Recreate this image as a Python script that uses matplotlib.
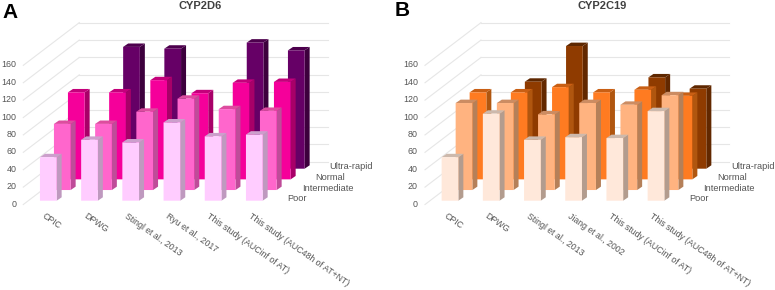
import matplotlib
matplotlib.use('Agg')
import matplotlib.pyplot as plt
from matplotlib.patches import Polygon
import numpy as np

plt.rcParams['font.family'] = ['Liberation Sans', 'DejaVu Sans']

# Values. nan = no bar in that series.

series_names = ['Poor', 'Intermediate', 'Normal', 'Ultra-rapid']
value_ticks = [0, 20, 40, 60, 80, 100, 120, 140, 160]

labels_a = ['CPIC', 'DPWG', 'Stingl et al., 2013', 'Ryu et al., 2017',
            'This study (AUCinf of AT)', 'This study (AUC48h of AT+NT)']
poor_a = [50, 70, 67, 90, 74, 76]
intermediate_a = [76, 76, 90, 105, 93, 91]
normal_a = [100, 100, 114, 99, 111, 112]
ultra_a = [np.nan, 140, 138, np.nan, 145, 136]

labels_b = ['CPIC', 'DPWG', 'Stingl et al., 2013', 'Jiang et al., 2002',
            'This study (AUCinf of AT)', 'This study (AUC48h of AT+NT)']
poor_b = [50, 100, 70, 73, 72, 103]
intermediate_b = [100, 100, 87, 100, 98, 109]
normal_b = [100, 100, 106, 100, 103, 96]
ultra_b = [np.nan, 100, 141, np.nan, 105, 92]

# front, side, top colour for each series

colors_a = [('#FFCCFF', '#BF99BF', '#CC9FCC'),
            ('#FF66CC', '#BF4C99', '#DD4C9F'),
            ('#F5009A', '#A80068', '#C4007B'),
            ('#660066', '#3D003D', '#4D004D')]
colors_b = [('#FFE8DA', '#B39C8E', '#CDB9AC'),
            ('#FFB380', '#B58059', '#CC8C62'),
            ('#FF7B21', '#B0560F', '#C95F14'),
            ('#8F3B00', '#622800', '#5E2700')]

# Sizes in pixels of the 775x290 figure, then converted to axes units.

fig_w, fig_h = 775, 290
px_cat = 41.2       # one category along x
px_val = 0.87       # one value unit along y
base_x = 48.3       # centre of first front bar, from axes left
base_y = 200.7      # floor of the front series, from the top
step_x = 14 / px_cat
step_y = 10.67 / px_val
bar_w = 16.7 / px_cat
side_x = 5 / px_cat
side_y = 3.4 / px_val
text_color = '#555555'
grid_color = '#E6E6E6'


def draw_panel(left_px, title, labels, series, colors):
    ax = fig.add_axes([left_px / fig_w, 0, 373 / fig_w, 1])
    ax.set_xlim(-base_x / px_cat, (373 - base_x) / px_cat)
    ax.set_ylim(-(fig_h - base_y) / px_val, base_y / px_val)
    ax.axis('off')

    # Left wall and back wall grid lines.

    wall_x0 = (23.3 - base_x) / px_cat
    wall_x1 = wall_x0 + 4 * step_x
    wall_x2 = (327.7 - base_x) / px_cat
    front_y = -4.4
    for v in value_ticks:
        ax.plot([wall_x0, wall_x1], [front_y + v, front_y + 4 * step_y + v],
                color=grid_color, lw=0.8, zorder=1)
        ax.plot([wall_x1, wall_x2], [front_y + 4 * step_y + v] * 2,
                color=grid_color, lw=0.8, zorder=1)
        ax.text(wall_x0 - 7 / px_cat, v - 3.8, str(v), ha='right', va='center',
                fontsize=6.4, color=text_color)

    # Back series first so the front ones cover them.

    x = np.arange(len(labels))
    for s in range(len(series) - 1, -1, -1):
        values = np.array(series[s], dtype=float)
        left = x - bar_w / 2 + s * step_x
        floor = s * step_y
        z = 10 + (len(series) - s) * 3
        front, side, top = colors[s]
        ax.bar(left, values, width=bar_w, bottom=floor, align='edge',
               color=front, linewidth=0, zorder=z + 1, snap=False)
        for xl, v in zip(left, values):
            if np.isnan(v):
                continue
            xr = xl + bar_w
            ax.add_patch(Polygon([(xr, floor), (xr + side_x, floor + side_y),
                                  (xr + side_x, floor + v + side_y), (xr, floor + v)],
                                 closed=True, fc=side, lw=0, zorder=z, snap=False))
            ax.add_patch(Polygon([(xl, floor + v), (xr, floor + v),
                                  (xr + side_x, floor + v + side_y),
                                  (xl + side_x, floor + v + side_y)],
                                 closed=True, fc=top, lw=0, zorder=z, snap=False))

    # Category labels under the front row.

    for i, name in enumerate(labels):
        ax.text(i - 2.5 / px_cat, -12, name, rotation=-35, rotation_mode='anchor',
                ha='left', va='top', fontsize=6.3, color=text_color)

    # Series names, stepping back with the depth.

    for s, name in enumerate(series_names):
        ax.text((287.7 - base_x) / px_cat + s * step_x, 2.3 + s * step_y, name,
                ha='left', va='center', fontsize=6.7, color=text_color)

    ax.text((200.5 - base_x) / px_cat, (base_y - 6) / px_val, title, ha='center',
            va='center', fontsize=8, fontweight='bold', color='#404040')
    return ax


fig = plt.figure(figsize=(fig_w / 100, fig_h / 100), dpi=100)

draw_panel(0, 'CYP2D6', labels_a, [poor_a, intermediate_a, normal_a, ultra_a], colors_a)
draw_panel(401.7, 'CYP2C19', labels_b, [poor_b, intermediate_b, normal_b, ultra_b], colors_b)

fig.text(2 / fig_w, 1 - 12 / fig_h, 'A', fontsize=15, fontweight='bold', va='center', color='black')
fig.text(395 / fig_w, 1 - 11 / fig_h, 'B', fontsize=15, fontweight='bold', va='center', color='black')

fig.savefig('out.png', dpi=100)
